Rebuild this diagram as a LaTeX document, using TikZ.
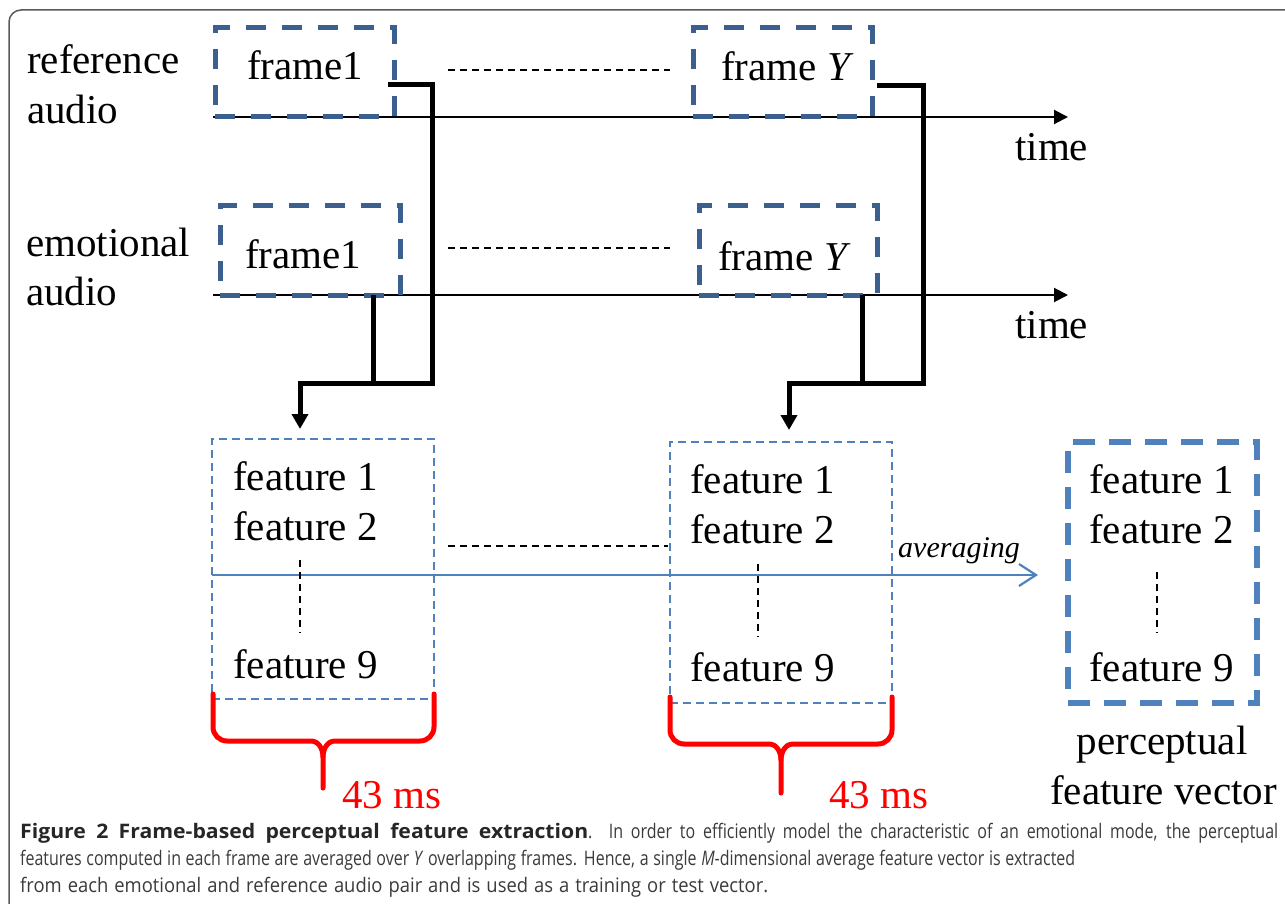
\documentclass[tikz,border=0pt]{standalone}
\usepackage{fontspec}
\setmainfont{Liberation Serif}
\newfontfamily\capfont[FakeStretch=0.8]{Open Sans}
\usetikzlibrary{arrows.meta,calc}
\definecolor{frameblue}{HTML}{3B5F8E}
\definecolor{featblue}{HTML}{4F81BD}
\definecolor{capgray}{HTML}{3A3A3A}
\begin{document}
\begin{tikzpicture}[x=1pt,y=-1pt,
  txt/.style={inner sep=0pt, anchor=base west, font=\fontsize{41}{48}\selectfont},
  ctxt/.style={txt, anchor=base},
  framebox/.style={draw=frameblue, line width=5pt, dash pattern=on 20pt off 16pt, inner sep=0pt},
  featbox/.style={draw=featblue, line width=1.8pt, dash pattern=on 8pt off 5pt, inner sep=0pt},
  vecbox/.style={draw=featblue, line width=6pt, dash pattern=on 22pt off 14pt, inner sep=0pt},
  conn/.style={line width=5pt, black, line join=miter},
  tipdown/.style={-{Triangle[length=15pt,width=16pt]}},
  axis/.style={line width=2pt, -{Triangle[length=14pt,width=14pt]}},
  dots/.style={line width=1.5pt, dash pattern=on 7pt off 5pt},
  brace/.style={red, line width=5pt, line cap=round, line join=round},
  captxt/.style={inner sep=0pt, anchor=base west, text=capgray, font=\capfont\fontsize{20}{27}\selectfont},
]
\useasboundingbox (0,0) rectangle (1285,904);
\clip (0,0) rectangle (1285,904);
% outer frame
\draw[black!65, line width=1.5pt, rounded corners=12pt] (9,10) rectangle (1320,930);

% time axes
\coordinate (ax1s) at (213,117); \coordinate (ax1e) at (1068,117);
\coordinate (ax2s) at (213,295); \coordinate (ax2e) at (1068,295);
\draw[axis] (ax1s) -- (ax1e);
\draw[axis] (ax2s) -- (ax2e);

% frame boxes
\node[framebox, minimum width=179pt, minimum height=89pt] (rf1) at (304.5,72.5) {};
\node[framebox, minimum width=180pt, minimum height=89pt] (ef1) at (310,250.5) {};
\node[framebox, minimum width=179pt, minimum height=89pt] (rfY) at (782.5,72.5) {};
\node[framebox, minimum width=178pt, minimum height=89pt] (efY) at (788,250.5) {};

% labels
\node[txt] (lref) at (27,74) {reference};
\node[txt] (lrefa) at (27,124) {audio};
\node[txt] (lemo) at (26,256) {emotional};
\node[txt] (lemoa) at (26,305) {audio};
\node[txt] (trf1) at (247,80) {frame1};
\node[txt] (tef1) at (245,269) {frame1};
\node[txt] (trfY) at (721,81) {frame \textit{Y}};
\node[txt] (tefY) at (718,270) {frame \textit{Y}};
\node[txt] (time1) at (1015,161) {time};
\node[txt] (time2) at (1015,338) {time};

% dashed gaps between frames
\draw[dots] (448,70) coordinate (d1s) -- (670,70) coordinate (d1e);
\draw[dots] (448,248) coordinate (d2s) -- (670,248) coordinate (d2e);

% feature boxes
\node[featbox, minimum width=222pt, minimum height=260pt] (fb1) at (323,569) {};
\node[featbox, minimum width=222pt, minimum height=261pt] (fb2) at (781,572.5) {};
\node[vecbox, minimum width=189pt, minimum height=261pt] (vb) at (1162.5,572.5) {};

% averaging arrow
\coordinate (avs) at (212,575); \coordinate (ave) at (1038,575);
\draw[featblue, line width=2.2pt, -{Straight Barb[length=17pt,width=22pt,line width=2.2pt]}] (avs) -- (ave);
\node[inner sep=0pt, anchor=base west, font=\fontsize{30}{36}\selectfont\itshape] (avg) at (898,557) {averaging};

% feature texts
\node[txt] (f11) at (233,490) {feature 1};
\node[txt] (f12) at (233,540) {feature 2};
\node[txt] (f19) at (233,678) {feature 9};
\node[txt] (f21) at (690,493) {feature 1};
\node[txt] (f22) at (690,543) {feature 2};
\node[txt] (f29) at (690,681) {feature 9};
\node[txt] (f31) at (1089,493) {feature 1};
\node[txt] (f32) at (1089,543) {feature 2};
\node[txt] (f39) at (1089,681) {feature 9};
\draw[dots] (300,560) coordinate (v1s) -- (300,633) coordinate (v1e);
\draw[dots] (758,564) coordinate (v2s) -- (758,637) coordinate (v2e);
\draw[dots] (1157,572) coordinate (v3s) -- (1157,633) coordinate (v3e);
\draw[dots] (448,546) coordinate (d3s) -- (668,546) coordinate (d3e);

\node[ctxt] (pf1) at (1162,754) {perceptual};
\node[ctxt] (pf2) at (1163.5,804) {feature vector};

% black connectors (left)
\coordinate (c1) at (388,85); \coordinate (c2) at (432,85);
\coordinate (c3) at (432,383); \coordinate (c4) at (300,383);
\coordinate (t1) at (300,429);
\coordinate (e1) at (373,295); \coordinate (e2) at (373,383);
\draw[conn, tipdown] (c1) -- (c2) -- (c3) -- (c4) -- (t1);
\draw[conn] (e1) -- (e2);
% black connectors (right)
\coordinate (k1) at (877,86); \coordinate (k2) at (923,86);
\coordinate (k3) at (923,383); \coordinate (k4) at (789,383);
\coordinate (t2) at (789,430);
\coordinate (g1) at (862,295); \coordinate (g2) at (862,383);
\draw[conn, tipdown] (k1) -- (k2) -- (k3) -- (k4) -- (t2);
\draw[conn] (g1) -- (g2);

% red braces
\draw[brace] (213,694) -- (213,727) to[out=-90,in=180] (227,741) -- (311,741) to[out=0,in=90] (323,757) -- (323,788);
\draw[brace] (434,694) -- (434,727) to[out=-90,in=0] (420,741) -- (335,741) to[out=180,in=90] (323,757);
\draw[brace] (670,697) -- (670,730) to[out=-90,in=180] (684,744) -- (769,744) to[out=0,in=90] (781,760) -- (781,793);
\draw[brace] (892,697) -- (892,730) to[out=-90,in=0] (878,744) -- (793,744) to[out=180,in=90] (781,760);
\node[txt, text=red] (ms1) at (342,808) {43 ms};
\node[txt, text=red] (ms2) at (829,808) {43 ms};

% caption
\node[captxt] (cap1) at (20,838) {\makebox[1258pt][s]{{\bfseries\addfontfeature{FakeStretch=1.06}\color{black!85}Figure 2 Frame-based perceptual feature extraction}. In order to efficiently model the characteristic of an emotional mode, the perceptual}};
\node[captxt] (cap2) at (20,865) {\makebox[1055pt][s]{features computed in each frame are averaged over \textit{Y} overlapping frames. Hence, a single \textit{M}-dimensional average feature vector is extracted}};
\node[captxt] (cap3) at (20,892) {\addfontfeature{FakeStretch=0.92}\makebox[748pt][s]{from each emotional and reference audio pair and is used as a training or test vector.}};
\end{tikzpicture}
\end{document}
